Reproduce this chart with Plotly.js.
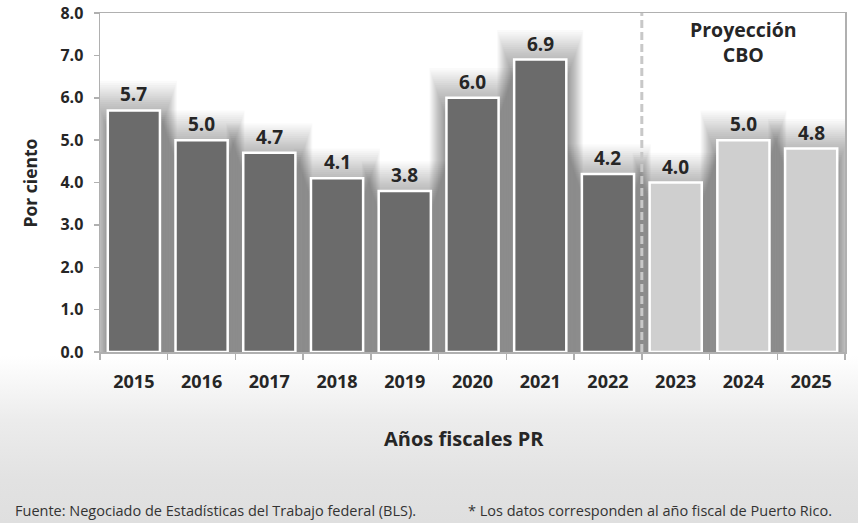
<!DOCTYPE html>
<html>
<head>
<meta charset="utf-8">
<script src="https://cdn.plot.ly/plotly-3.0.1.min.js"></script>
<style>
  html, body { margin: 0; padding: 0; }
  body {
    width: 858px; height: 523px; overflow: hidden;
    background: linear-gradient(to bottom, #ffffff 0px, #ffffff 356px, #ececec 420px, #e2e2e2 480px, #dfdfdf 523px);
  }
  #chart { width: 858px; height: 523px; }
</style>
</head>
<body>
<div id="chart"></div>
<script>
// ---- data ----
const years = ["2015", "2016", "2017", "2018", "2019", "2020", "2021", "2022", "2023", "2024", "2025"];
const values = [5.7, 5.0, 4.7, 4.1, 3.8, 6.0, 6.9, 4.2, 4.0, 5.0, 4.8];
const isProjection = [false, false, false, false, false, false, false, false, true, true, true];

const FONT = '"Open Sans", "DejaVu Sans", sans-serif';
const TXT = '#262626';

const idx = years.map((_, i) => i);
const barColors = isProjection.map(p => p ? '#cfcfcf' : '#6b6b6b');
const firstProj = isProjection.indexOf(true);
const BAR_W = 0.77;

// soft shadow: stacked translucent bars behind the real ones
const SHADOW_LAYERS = 24, SHADOW_INNER = 10, SX = 0.0105, SY = 0.05;
const shadowTraces = [];
for (let k = SHADOW_LAYERS; k >= 1; k--) {
  shadowTraces.push({
    type: 'bar',
    x: idx,
    y: values.map(v => v + (k - SHADOW_INNER) * SY),
    width: BAR_W + 2 * k * SX,
    marker: { color: 'rgba(0,0,0,0.02)', line: { width: 0 } },
    hoverinfo: 'skip'
  });
}

const trace = {
  type: 'bar',
  x: idx,
  y: values,
  width: BAR_W,
  marker: { color: barColors, line: { color: '#ffffff', width: 2.5 } }
};

const valueLabels = idx.map(i => ({
  x: i, y: values[i], xref: 'x', yref: 'y',
  text: values[i].toFixed(1),
  showarrow: false, yanchor: 'bottom', yshift: 1,
  font: { family: FONT, size: 19, color: TXT, weight: 700 }
}));

const layout = {
  width: 858, height: 523,
  margin: { l: 100, r: 13, t: 13, b: 171 },
  paper_bgcolor: 'rgba(0,0,0,0)',
  plot_bgcolor: 'rgba(0,0,0,0)',
  barmode: 'overlay',
  showlegend: false,
  xaxis: {
    range: [-0.5, years.length - 0.5],
    tickmode: 'array', tickvals: idx, ticktext: years,
    showgrid: false, zeroline: false,
    showline: true, linecolor: '#b0b0b0', linewidth: 1.5, mirror: true,
    ticks: 'outside', ticklen: 0,
    ticklabelstandoff: 13,
    tickfont: { family: FONT, size: 18, color: TXT, weight: 700 },
    minor: { tickmode: 'linear', tick0: -0.5, dtick: 1, ticks: 'outside', ticklen: 6, tickcolor: '#b0b0b0', tickwidth: 1.5, showgrid: false }
  },
  yaxis: {
    range: [0, 8], dtick: 1, tickformat: '.1f',
    showgrid: false, zeroline: false,
    showline: true, linecolor: '#b0b0b0', linewidth: 1.5, mirror: true,
    ticks: 'outside', ticklen: 5, tickcolor: '#b0b0b0', tickwidth: 1.5,
    ticklabelstandoff: 7,
    tickfont: { family: FONT, size: 16, color: TXT, weight: 700 }
  },
  shapes: [{
    type: 'line', xref: 'x', yref: 'paper',
    x0: firstProj - 0.5, x1: firstProj - 0.5, y0: 0, y1: 1,
    line: { color: '#c8c8c8', width: 3, dash: '8px,4px' },
    layer: 'above'
  }],
  annotations: valueLabels.concat([
    {
      x: firstProj + 1, y: 0.915, xref: 'x', yref: 'paper', yanchor: 'middle',
      text: 'Proyección<br>CBO', showarrow: false,
      font: { family: FONT, size: 19.5, color: TXT, weight: 700 }
    },
    {
      x: 0.4886, y: -0.2566, xref: 'paper', yref: 'paper', xanchor: 'center', yanchor: 'middle',
      text: 'Años fiscales PR', showarrow: false,
      font: { family: FONT, size: 20, color: TXT, weight: 700 }
    },
    {
      x: -0.094, y: 0.5, xref: 'paper', yref: 'paper', xanchor: 'center', yanchor: 'middle',
      text: 'Por ciento', showarrow: false, textangle: -90,
      font: { family: FONT, size: 17.5, color: TXT, weight: 700 }
    },
    {
      x: -0.1168, y: -0.469, xref: 'paper', yref: 'paper', xanchor: 'left', yanchor: 'middle',
      text: 'Fuente: Negociado de Estadísticas del Trabajo federal (BLS).', showarrow: false,
      font: { family: FONT, size: 14.5, color: '#333333' }
    },
    {
      x: 0.4913, y: -0.469, xref: 'paper', yref: 'paper', xanchor: 'left', yanchor: 'middle',
      text: '* Los datos corresponden al año fiscal de Puerto Rico.', showarrow: false,
      font: { family: FONT, size: 14.5, color: '#333333' }
    }
  ])
};

Plotly.newPlot('chart', shadowTraces.concat([trace]), layout, { displayModeBar: false, staticPlot: true });
</script>
</body>
</html>
